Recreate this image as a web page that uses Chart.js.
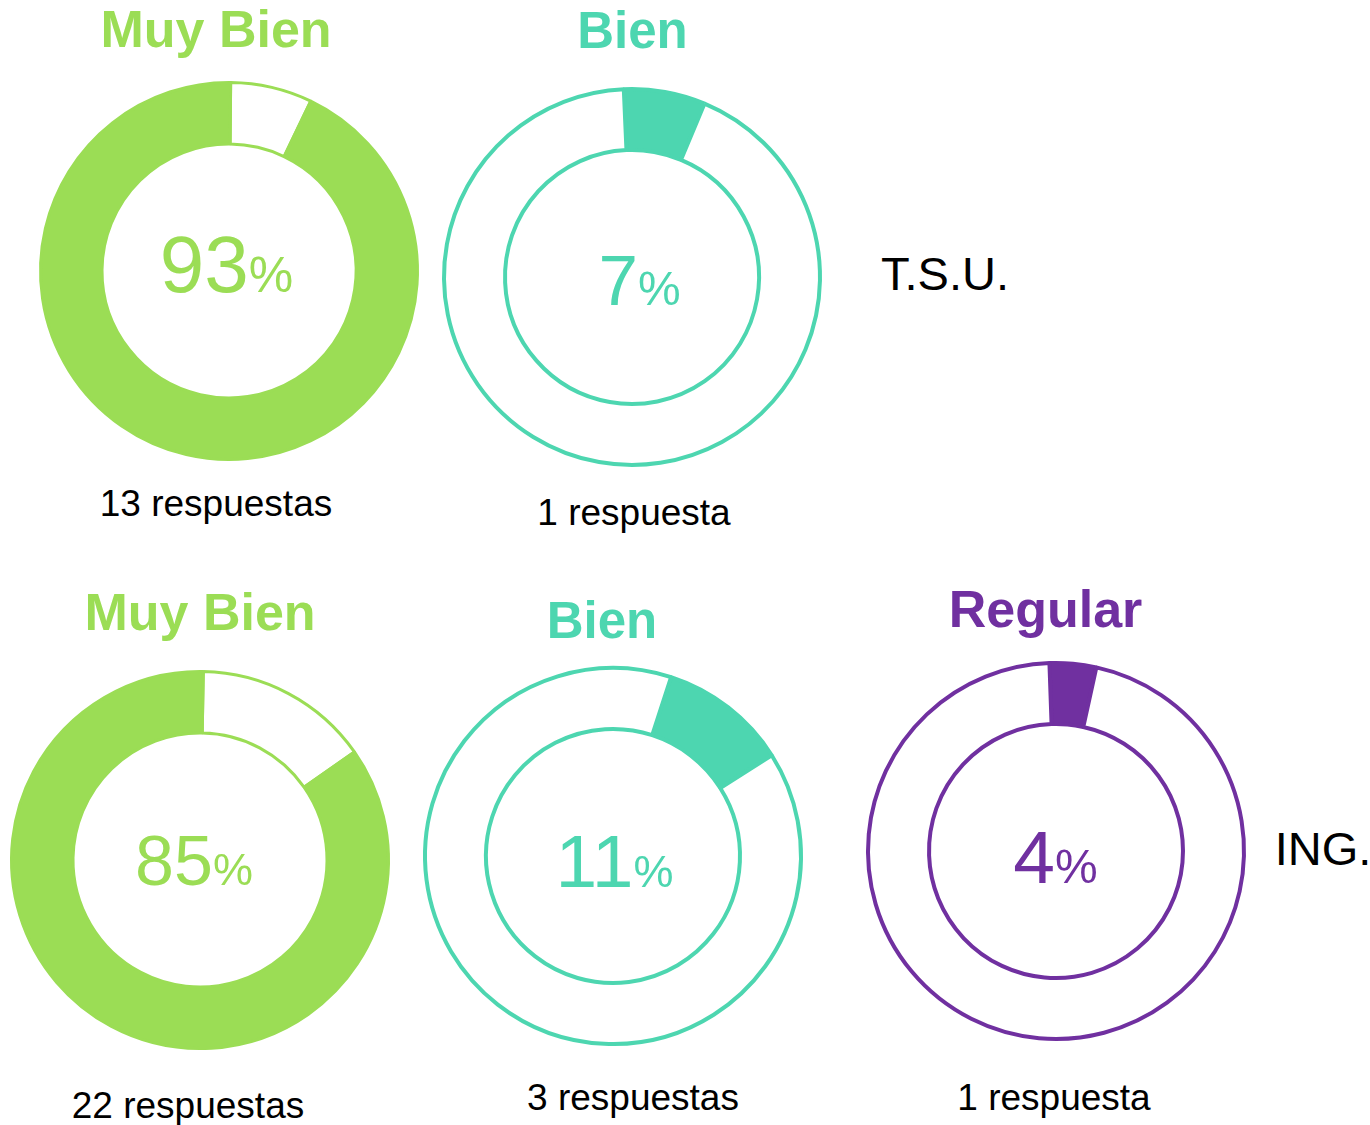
<!DOCTYPE html>
<html>
<head>
<meta charset="utf-8">
<script src="https://cdn.jsdelivr.net/npm/chart.js@4/dist/chart.umd.min.js"></script>
<style>
  body { margin: 0; background: #fff; }
  #page { position: relative; width: 1370px; height: 1125px; overflow: hidden; font-family: "Liberation Sans", Arial, sans-serif; }
  #page canvas { position: absolute; }
  .txt { position: absolute; line-height: 1; white-space: nowrap; transform: translateX(-50%); }
</style>
</head>
<body>
<div id="page"></div>
<script>
// data
const groups = ['T.S.U.', 'T.S.U.', 'ING.', 'ING.', 'ING.'];
const categories = ['Muy Bien', 'Bien', 'Muy Bien', 'Bien', 'Regular'];
const percentages = [93, 7, 85, 11, 4];
const responses = [13, 1, 22, 3, 1];

// look and placement
const colors = { 'Muy Bien': '#9bdd55', 'Bien': '#4dd6b0', 'Regular': '#7030a0' };
const centers = [[228.5, 270.5], [632, 277], [200, 860], [613, 855.5], [1055.5, 851]];
const rotations = [0.5, -2.5, 1, 18, -2];
const titlePos = [[216, 47, 52], [632.5, 48, 51], [200, 630, 52], [602, 638, 51], [1045.5, 627, 52]];
const valuePos = [[226.5, 293, 80, 50], [639.5, 305, 71, 48], [194, 885, 70, 45], [614.5, 887, 75, 45], [1055.5, 883, 75, 48]];
const labelPos = [[216, 516], [634, 525], [188, 1118], [633, 1110], [1054, 1110]];
const groupPos = { 'T.S.U.': [945, 290], 'ING.': [1323, 865] };

const page = document.getElementById('page');

function place(html, x, baseline, size, weight, color) {
    const d = document.createElement('div');
    d.className = 'txt';
    d.style.left = x + 'px';
    d.style.top = (baseline - 0.8465 * size) + 'px';
    d.style.fontSize = size + 'px';
    d.style.fontWeight = weight;
    d.style.color = color;
    d.innerHTML = html;
    page.appendChild(d);
}

function createRing(i) {
    const col = colors[categories[i]];
    const [cx, cy] = centers[i];
    const cv = document.createElement('canvas');
    cv.width = 400; cv.height = 400;
    cv.style.left = (cx - 200) + 'px';
    cv.style.top = (cy - 200) + 'px';
    page.appendChild(cv);

    // the big green rings start with the empty part, the others with the filled one
    const first = categories[i] === 'Muy Bien';
    const values = first ? [100 - percentages[i], percentages[i]] : [percentages[i], 100 - percentages[i]];
    const fills = first ? ['#ffffff', col] : [col, '#ffffff'];
    const bw = first ? 3 : 4;
    const outer = 190 - bw / 2;

    new Chart(cv, {
        type: 'doughnut',
        data: {
            labels: first ? ['Otros', categories[i]] : [categories[i], 'Otros'],
            datasets: [{
                data: values,
                backgroundColor: fills,
                borderColor: col,
                borderWidth: bw,
                hoverOffset: 0
            }]
        },
        options: {
            responsive: false,
            animation: false,
            devicePixelRatio: 1,
            radius: outer,
            cutout: (127 / outer * 100) + '%',
            rotation: rotations[i],
            events: [],
            plugins: { legend: { display: false }, tooltip: { enabled: false } }
        }
    });

    const t = titlePos[i];
    place(categories[i], t[0], t[1], t[2], 'bold', col);
    const v = valuePos[i];
    place(percentages[i] + '<span style="font-size:' + v[3] + 'px;line-height:1">%</span>', v[0], v[1], v[2], 'normal', col);
    const l = labelPos[i];
    place(responses[i] + (responses[i] === 1 ? ' respuesta' : ' respuestas'), l[0], l[1], 37, 'normal', '#000');
}

function handlePage() {
    for (let i = 0; i < categories.length; i++) createRing(i);
    [...new Set(groups)].forEach(g => place(g, groupPos[g][0], groupPos[g][1], 47, 'normal', '#000'));
}
handlePage();
</script>
</body>
</html>
